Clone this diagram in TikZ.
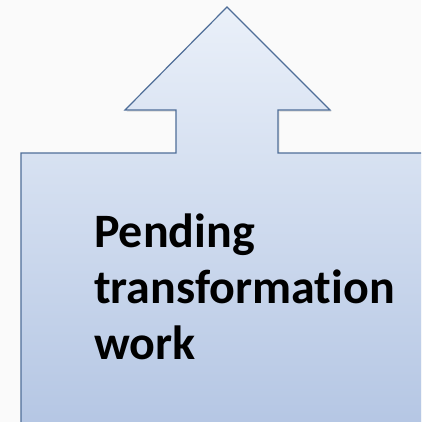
\documentclass[tikz,border=0pt]{standalone}
\usepackage{fontspec}
\setmainfont{Carlito}[Ligatures={NoCommon,TeX}]
\usetikzlibrary{shadows}

\definecolor{pagegrey}{HTML}{FAFAFA}
\definecolor{calloutline}{HTML}{4F6E98}
\definecolor{callouttop}{HTML}{EAF0F9}
\definecolor{calloutbottom}{HTML}{B3C5E3}

\tikzset{
  callout/.style={draw=calloutline, line width=1.2pt, line join=miter,
    top color=callouttop, bottom color=calloutbottom,
    drop shadow={opacity=0.18, shadow xshift=1.5pt, shadow yshift=-2pt}},
  calloutlabel/.style={anchor=base west, inner sep=0pt,
    font=\bfseries\fontsize{48}{56}\selectfont}
}

\begin{document}
\begin{tikzpicture}[x=1pt,y=-1pt]
  % Page
  \useasboundingbox (0,0) rectangle (421,422);
  \fill[pagegrey] (0,0) rectangle (421,422);
  \clip (0,0) rectangle (421,422);

  % Up arrow callout, cut by the page edge at right and bottom
  \draw[callout] (21,440) -- (21,153) -- (176,153) -- (176,110) -- (125,110)
    -- (227,7) -- (330,110) -- (278,110) -- (278,153) -- (440,153)
    -- (440,440) -- cycle;

  % Text
  \node[calloutlabel] (pending) at (94,247) {Pending};
  \node[calloutlabel] (transf) at (94,303) {transformation};
  \node[calloutlabel] (work) at (94,359) {work};
\end{tikzpicture}
\end{document}
